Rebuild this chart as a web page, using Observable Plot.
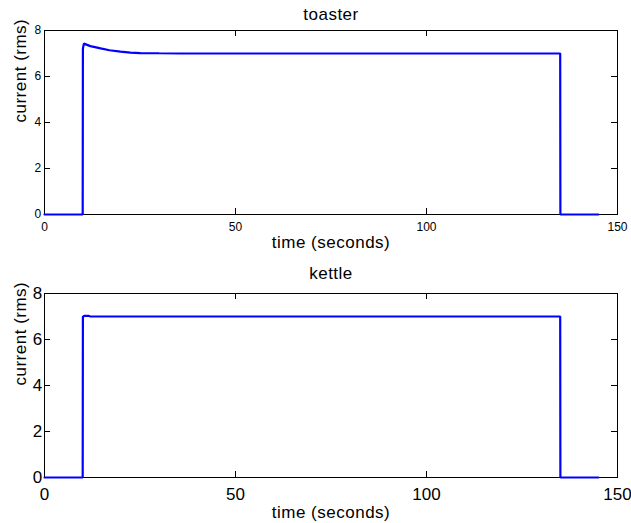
<!DOCTYPE html>
<html>
<head>
<meta charset="utf-8">
<script src="https://cdn.jsdelivr.net/npm/d3@7"></script>
<script src="https://cdn.jsdelivr.net/npm/@observablehq/plot@0.6"></script>
<style>
  html, body { margin: 0; padding: 0; background: #ffffff; }
  #chart svg { display: block; }
  g[aria-label="text"] text { letter-spacing: 0.5px; }
</style>
</head>
<body>
<div id="chart"></div>
<script>
// Tick labels
const xTicks = [0, 50, 100, 150];
const yTicks = [0, 2, 4, 6, 8];

// Panel titles and axis labels
const titles = ["toaster", "kettle"];
const xLabel = "time (seconds)";
const yLabel = "current (rms)";

// toaster series (time in seconds, rms current)
const toasterTime    = [0, 10, 10.05, 10.3, 12, 14.7, 17, 19.9, 22.5, 25.1, 30, 35.6, 60, 100, 135, 135.05, 145];
const toasterCurrent = [0, 0, 7.2, 7.43, 7.32, 7.22, 7.14, 7.08, 7.04, 7.02, 7.01, 7.0, 7.0, 7.0, 7.0, 0, 0];

// kettle series
const kettleTime    = [0, 10, 10.05, 10.5, 11.5, 12, 60, 100, 135, 135.05, 145];
const kettleCurrent = [0, 0, 6.99, 7.03, 7.03, 7.0, 7.0, 7.0, 7.0, 0, 0];

const FONT = "'Liberation Sans', Arial, Helvetica, sans-serif";
const W = 631, ML = 44, MR = 14, TICK = 6;

function panel({title, time, current, height, marginTop, marginBottom,
                tickFont, labelFont, xPad, yPad, titleDy, xLabelDy}) {
  const innerW = W - ML - MR;
  const innerH = height - marginTop - marginBottom;
  const inner = {stroke: "#000000", strokeWidth: 1};
  return Plot.plot({
    width: W,
    height,
    marginLeft: ML,
    marginRight: MR,
    marginTop,
    marginBottom,
    style: {fontFamily: FONT, background: "#ffffff", color: "#000000"},
    x: {domain: [0, 150], ticks: xTicks},
    y: {domain: [0, 8], ticks: yTicks},
    marks: [
      // inward ticks on all four sides
      Plot.ruleX(xTicks, {x: d => d, insetTop: innerH - TICK, ...inner}),
      Plot.ruleX(xTicks, {x: d => d, insetBottom: innerH - TICK, ...inner}),
      Plot.ruleY(yTicks, {y: d => d, insetRight: innerW - TICK, ...inner}),
      Plot.ruleY(yTicks, {y: d => d, insetLeft: innerW - TICK, ...inner}),
      Plot.frame({stroke: "#000000", strokeWidth: 1}),
      // tick labels
      Plot.axisX(xTicks, {anchor: "bottom", tickSize: 0, tickPadding: xPad, fontSize: tickFont, label: null}),
      Plot.axisY(yTicks, {anchor: "left", tickSize: 0, tickPadding: yPad, fontSize: tickFont, label: null}),
      // data
      Plot.line({length: time.length}, {
        x: time, y: current,
        stroke: "#0000ff", strokeWidth: 2.2, strokeLinejoin: "miter"
      }),
      // title
      Plot.text([title], {text: d => d, frameAnchor: "top", lineAnchor: "bottom",
        dy: titleDy, fontSize: labelFont}),
      // x label
      Plot.text([xLabel], {text: d => d, frameAnchor: "bottom", lineAnchor: "bottom",
        dy: xLabelDy, fontSize: labelFont}),
      // y label
      Plot.text([yLabel], {text: d => d, frameAnchor: "left", lineAnchor: "bottom",
        rotate: -90, dx: -19, fontSize: labelFont})
    ]
  });
}

const chart = document.getElementById("chart");
chart.appendChild(panel({
  title: titles[0], time: toasterTime, current: toasterCurrent,
  height: 258, marginTop: 30, marginBottom: 44,
  tickFont: 12, labelFont: 17, xPad: 7.7, yPad: 3.3, titleDy: -10.7, xLabelDy: 33
}));
chart.appendChild(panel({
  title: titles[1], time: kettleTime, current: kettleCurrent,
  height: 265, marginTop: 35, marginBottom: 46,
  tickFont: 17, labelFont: 17, xPad: 10, yPad: 2.3, titleDy: -14.6, xLabelDy: 40.6
}));
</script>
</body>
</html>
